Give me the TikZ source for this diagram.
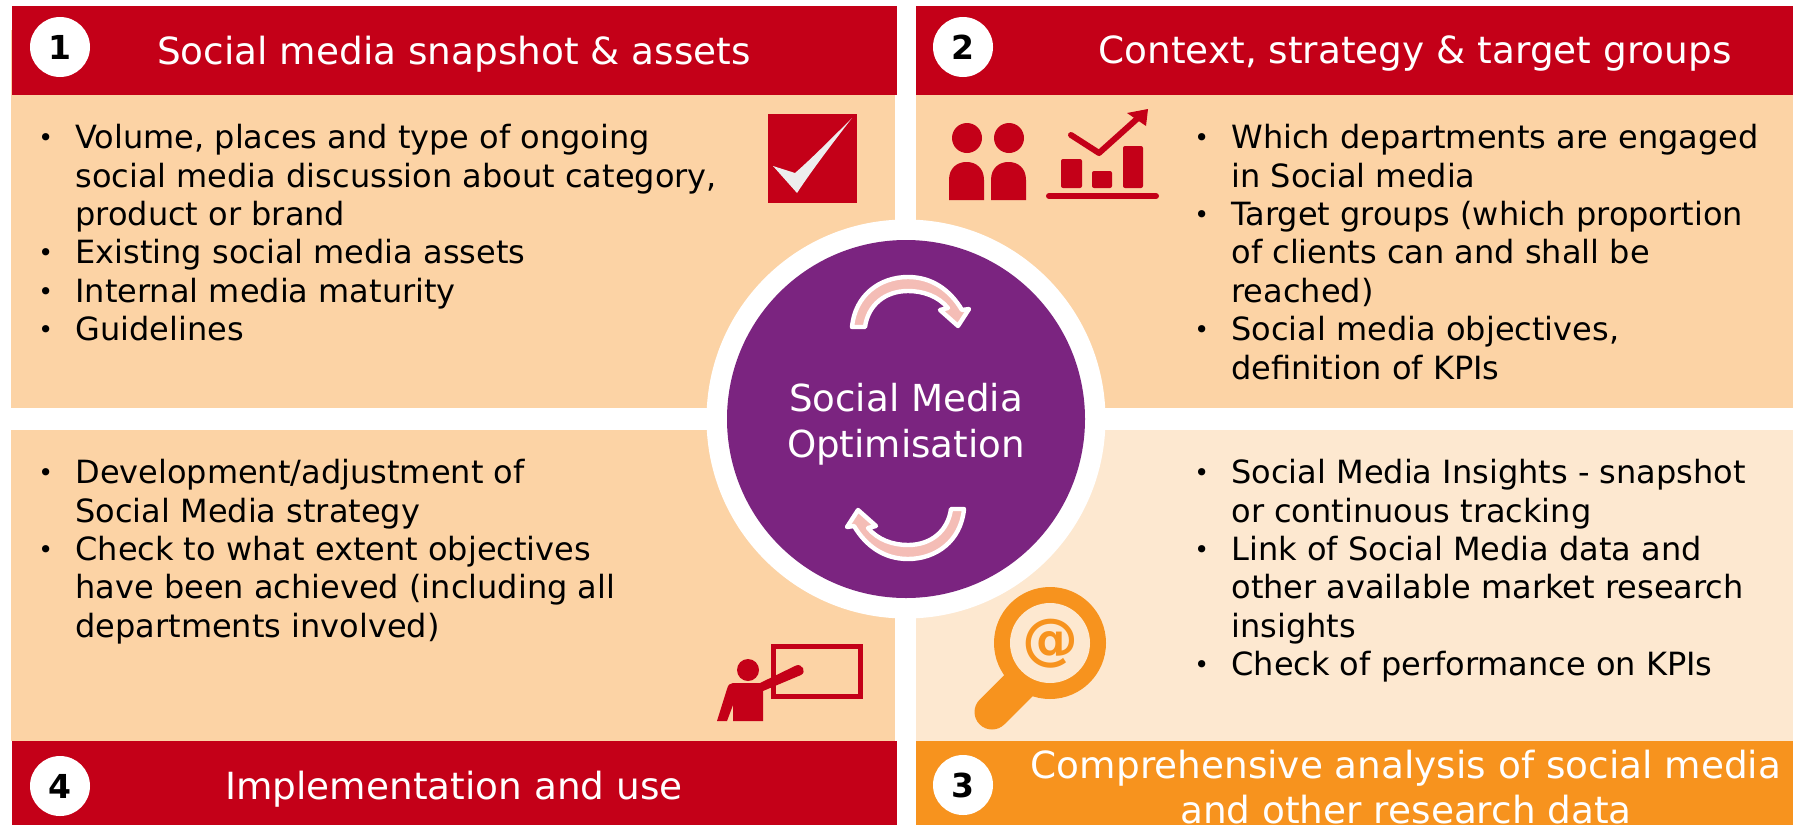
\documentclass[tikz,border=0pt]{standalone}
\usepackage{fontspec}
\setmainfont{DejaVu Sans}
\definecolor{hdred}{HTML}{C40018}
\definecolor{peach}{HTML}{FCD3A5}
\definecolor{lightpeach}{HTML}{FDE8D0}
\definecolor{hdorange}{HTML}{F7931E}
\definecolor{hubpurple}{HTML}{7B2480}
\definecolor{spinpink}{HTML}{F4BDB6}
\newcommand{\bl}{\makebox[18.5pt][l]{\raisebox{1pt}{\fontsize{12.5}{13pt}\selectfont\textbullet}}}
\newcommand{\ct}{\hspace*{18.5pt}}
\tikzset{
	title/.style={text=white,font=\fontsize{18.7}{22.5pt}\selectfont,align=center,inner sep=0pt},
	badge/.style={circle,fill=white,minimum size=30pt,inner sep=0pt,font=\fontsize{16.5}{18pt}\bfseries\selectfont},
	body/.style={anchor=north west,align=left,inner sep=0pt,font=\fontsize{16}{19.2pt}\selectfont},
}
\begin{document}
\begin{tikzpicture}[x=0.5pt,y=-0.5pt,line join=round,line cap=round]
	\useasboundingbox (0,0) rectangle (1793,825);
	% panels
	\fill[peach] (11,30) rectangle (895,408);
	\fill[peach] (916,30) rectangle (1793,408);
	\fill[peach] (11,430) rectangle (895,741);
	\fill[lightpeach] (916,430) rectangle (1793,741);
	% headers
	\fill[hdred] (12,6) rectangle (897,95);
	\fill[hdred] (916,6) rectangle (1793,95);
	\fill[hdred] (12,741) rectangle (897,825);
	\fill[hdorange] (916,741) rectangle (1793,825);
	\node[badge] (b1) at (60,47) {1};
	\node[badge] (b2) at (963,47) {2};
	\node[badge] (b3) at (963,785) {3};
	\node[badge] (b4) at (60,786) {4};
	\node[title] (t1) at (454,54) {Social media snapshot \& assets};
	\node[title] (t2) at (1415,54) {Context, strategy \& target groups};
	\node[title,anchor=base] (t3) at (1406,778) {Comprehensive analysis of social media};
	\node[title,anchor=base] (t3b) at (1406,823) {and other research data};
	\node[title] (t4) at (454,789) {Implementation and use};
	% texts
	\node[body] (l1) at (38,124) {\bl Volume, places and type of ongoing\\\ct social media discussion about category,\\\ct product or brand\\\bl Existing social media assets\\\bl Internal media maturity\\\bl Guidelines};
	\node[body] (l2) at (1194,124) {\bl Which departments are engaged\\\ct in Social media\\\bl Target groups (which proportion\\\ct of clients can and shall be\\\ct reached)\\\bl Social media objectives,\\\ct definition of KPIs};
	\node[body] (l3) at (1194,459) {\bl Social Media Insights - snapshot\\\ct or continuous tracking\\\bl Link of Social Media data and\\\ct other available market research\\\ct insights\\\bl Check of performance on KPIs};
	\node[body] (l4) at (38,459) {\bl Development/adjustment of\\\ct Social Media strategy\\\bl Check to what extent objectives\\\ct have been achieved (including all\\\ct departments involved)};
	% check mark
	\fill[hdred] (768,114) rectangle (857,203);
	\fill[white!93!black] (852,118) .. controls (830,140) and (810,160) .. (795,173) -- (773,166) -- (797,193) .. controls (812,170) and (835,140) .. (852,118) -- cycle;
	% people
	\fill[hdred] (967,138) circle (15) (1009,138) circle (15);
	\fill[hdred] (949,200) -- (949,180) .. controls (949,168) and (957,162) .. (966.5,162) .. controls (976,162) and (984,168) .. (984,180) -- (984,200) -- cycle;
	\fill[hdred] (991,200) -- (991,180) .. controls (991,168) and (999,162) .. (1008.5,162) .. controls (1018,162) and (1026,168) .. (1026,180) -- (1026,200) -- cycle;
	% chart
	\fill[hdred,rounded corners=1pt] (1061,159) rectangle (1082,188);
	\fill[hdred,rounded corners=1pt] (1092,171) rectangle (1112,188);
	\fill[hdred,rounded corners=1pt] (1123,146) rectangle (1143,188);
	\draw[hdred,line width=3pt] (1049,196) -- (1156,196);
	\draw[hdred,line width=3pt] (1071,135) -- (1099,153) -- (1138,118);
	\fill[hdred] (1148,109) -- (1127,113) -- (1146,126) -- cycle;
	% presenter
	\draw[hdred,line width=2.5pt,line cap=butt,line join=miter] (773.5,646.5) rectangle (860.5,696.5);
	\fill[hdred] (748,670) circle (11);
	\fill[hdred] (717,721) -- (727,689) .. controls (728,685) and (730,683) .. (733,683) -- (760,683) -- (796,665.5) .. controls (802,663) and (807,672) .. (801,675) -- (763,691) -- (763,721) -- (733,721) -- (733,705) -- (727,721) -- cycle;
	% magnifier
	\draw[hdorange,line width=17.5pt] (992,712) -- (1022,682);
	\fill[hdorange] (1050,643) circle (56);
	\fill[lightpeach] (1050,643) circle (40);
	\node[text=hdorange,inner sep=0pt,font=\fontsize{28}{30pt}\bfseries\selectfont] (at1) at (1050,644) {@};
	% hub
	\fill[white] (906,419) circle (199.5);
	\fill[hubpurple] (906,419) circle (179);
	\node[text=white,font=\fontsize{18.6}{23pt}\selectfont,align=center,inner sep=0pt] (hub) at (906,424) {Social Media\\Optimisation};
	\foreach \a in {0,180}{
		\begin{scope}[rotate around={\a:(908,418)}]
			\draw[white,line width=2.2pt,fill=spinpink] (852,327) .. controls (855,295) and (880,277) .. (908,277) .. controls (932,277) and (950,290) .. (962,310) -- (969,309) -- (958,326) -- (940,310) -- (948,308) .. controls (938,296) and (923,291) .. (908,291) .. controls (885,291) and (868,305) .. (865,327) -- cycle;
		\end{scope}
	}
\end{tikzpicture}
\end{document}
